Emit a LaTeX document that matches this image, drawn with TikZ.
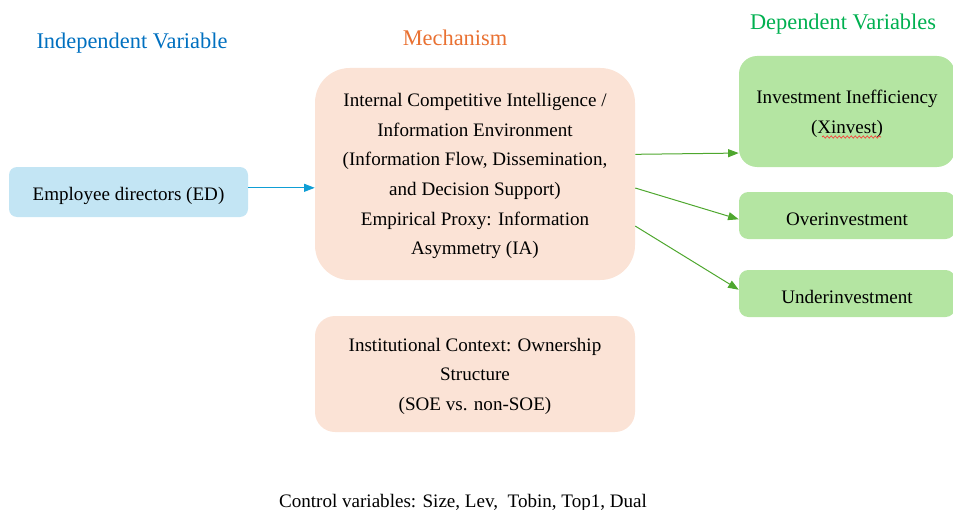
\documentclass[tikz,border=0pt]{standalone}
\usepackage{fontspec}
\setmainfont{Liberation Serif}
\usepackage{xcolor}
\usetikzlibrary{arrows.meta, decorations.pathmorphing}

\definecolor{ivblue}{RGB}{0,112,192}
\definecolor{mechorange}{RGB}{233,113,50}
\definecolor{dvgreen}{RGB}{0,176,80}
\definecolor{edfill}{RGB}{195,229,244}
\definecolor{peach}{RGB}{251,227,214}
\definecolor{leaf}{RGB}{180,229,162}
\definecolor{linkblue}{RGB}{15,158,213}
\definecolor{linkgreen}{RGB}{78,167,46}

\begin{document}
\begin{tikzpicture}[x=0.75pt, y=-0.75pt,
    box/.style={rectangle, align=center, inner sep=0pt,
      execute at begin node={\rule{0pt}{15.5pt}},
      font=\fontsize{14.3}{22.2}\selectfont},
    tallbox/.style={box, text depth=-4.5pt},
    head/.style={font=\fontsize{16.8}{20}\selectfont},
    link/.style={line width=0.75pt, -{Triangle[length=8pt, width=6pt]}}]

  \useasboundingbox (0,0) rectangle (953,510);

  % Column heads
  \node[head, color=ivblue] (hIV) at (132,43) {Independent Variable};
  \node[head, color=mechorange] (hM) at (455,38) {Mechanism};
  \node[head, color=dvgreen] (hDV) at (843,24) {Dependent Variables};

  % Left column
  \node[box, fill=edfill, rounded corners=6pt,
    minimum width=179.25pt, minimum height=37.5pt] (ED) at (128.5,192)
    {Employee directors (ED)};

  % Middle column
  \node[tallbox, fill=peach, rounded corners=26pt,
    minimum width=240pt, minimum height=159pt] (mech) at (475,174)
    {Internal Competitive Intelligence /\\
     Information Environment\\
     (Information Flow, Dissemination,\\
     and Decision Support)\\
     Empirical Proxy: Information\\
     Asymmetry (IA)};

  \node[tallbox, fill=peach, rounded corners=15pt,
    minimum width=240pt, minimum height=87pt] (inst) at (475,374)
    {Institutional Context: Ownership\\
     Structure\\
     (SOE vs. non-SOE)};

  % Right column
  \node[tallbox, fill=leaf, rounded corners=13.5pt,
    minimum width=162pt, minimum height=83.25pt] (inv) at (847,111.5)
    {Investment Inefficiency\\
     (Xinvest)};
  \node[box, fill=leaf, rounded corners=7pt,
    minimum width=162pt, minimum height=35.25pt] (over) at (847,215.5)
    {Overinvestment};
  \node[box, fill=leaf, rounded corners=7pt,
    minimum width=162pt, minimum height=35.25pt] (under) at (847,293.5)
    {Underinvestment};

  % squiggle under Xinvest
  \draw[red!80, line width=0.5pt, decorate,
    decoration={snake, amplitude=0.8pt, segment length=3pt}]
    (822,137) -- (881,137);

  % Arrows
  \draw[link, draw=linkblue, color=linkblue] (ED.2.4) -- (mech.west |- ED.2.4);
  \foreach \from/\to in {7.5/inv.201, -5/over.182, -18.3/under.178.7} {
    \draw[link, draw=linkgreen, color=linkgreen] (mech.\from) -- (\to);
  }

  % Footnote
  \node[box] (ctrl) at (463,499)
    {Control variables: Size, Lev,\ \ Tobin, Top1, Dual};
\end{tikzpicture}
\end{document}
